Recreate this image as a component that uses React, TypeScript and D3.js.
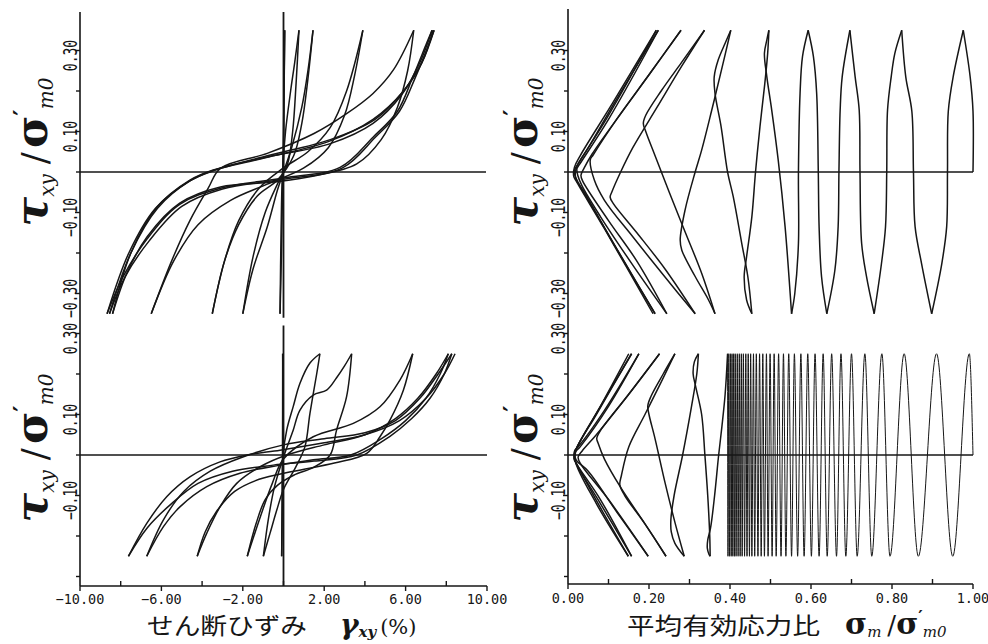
import * as d3 from 'd3'

type Pt = [number, number]

// shear strain (%) vs stress ratio, upper test (ratio 0.35)
const tlLoops: Pt[][] = [
  [[0, 0], [0.03, 0.2], [0.06, 0.35]],
  [[0.06, 0.35], [0.0, 0.1], [-0.05, -0.05], [-0.1, -0.2], [-0.17, -0.35]],
  [[-0.17, -0.35], [-0.12, -0.15], [-0.05, 0], [0.1, 0.1], [0.35, 0.2], [0.55, 0.27], [0.76, 0.35]],
  [[0.76, 0.35], [0.62, 0.22], [0.45, 0.1], [0.2, 0.02], [-0.3, -0.03], [-0.9, -0.1], [-1.5, -0.21], [-2.0, -0.35]],
  [[-2.0, -0.35], [-1.5, -0.24], [-0.8, -0.136], [-0.3, -0.045], [0.0, 0.0], [0.4, 0.06], [0.9, 0.16], [1.2, 0.25], [1.45, 0.35]],
  [[1.45, 0.35], [1.2, 0.23], [0.9, 0.12], [0.5, 0.04], [-0.3, -0.02], [-1.3, -0.06], [-2.2, -0.13], [-2.9, -0.22], [-3.5, -0.35]],
  [[-3.5, -0.35], [-2.9, -0.22], [-2.2, -0.12], [-1.2, -0.04], [0.0, 0.01], [1.2, 0.05], [2.3, 0.11], [3.1, 0.2], [3.9, 0.35]],
  [[3.9, 0.35], [3.5, 0.24], [3.0, 0.14], [2.2, 0.06], [1.0, 0.01], [-0.8, -0.03], [-2.6, -0.07], [-4.2, -0.13], [-5.4, -0.22], [-6.5, -0.35]],
  [[-6.5, -0.35], [-5.5, -0.22], [-4.6, -0.12], [-3.7, -0.04], [-3.1, 0.009], [-0.8, 0.046], [1.5, 0.095], [3.1, 0.144], [4.4, 0.194], [5.4, 0.252], [6.4, 0.35]],
  [[6.4, 0.35], [6.1, 0.25], [5.6, 0.16], [4.8, 0.08], [3.6, 0.02], [1.5, -0.01], [-0.5, -0.025], [-3.1, -0.037], [-5.1, -0.077], [-6.7, -0.16], [-7.7, -0.25], [-8.4, -0.35]],
  [[-8.4, -0.35], [-7.5, -0.2], [-6.2, -0.086], [-4.6, -0.02], [-3.45, 0.005], [-0.8, 0.037], [2.3, 0.07], [4.4, 0.12], [5.8, 0.19], [6.7, 0.27], [7.3, 0.35]],
  [[7.3, 0.35], [7.05, 0.32], [6.36, 0.235], [5.6, 0.15], [4.4, 0.086], [2.8, 0.012], [0.0, -0.015], [-3.1, -0.04], [-5.1, -0.08], [-6.7, -0.165], [-7.9, -0.26], [-8.67, -0.35]],
  [[-8.67, -0.35], [-7.6, -0.2], [-6.3, -0.09], [-4.7, -0.025], [-3.5, 0.003], [-0.9, 0.035], [2.2, 0.075], [4.4, 0.13], [5.9, 0.2], [6.8, 0.27], [7.4, 0.35]],
  [[7.4, 0.35], [7.1, 0.31], [6.45, 0.23], [5.7, 0.15], [4.5, 0.085], [2.9, 0.01], [0.0, -0.018], [-3.0, -0.042], [-5.0, -0.085], [-6.6, -0.17], [-7.8, -0.26], [-8.55, -0.35]],
  [[-8.55, -0.35], [-7.5, -0.2], [-6.2, -0.09], [-4.6, -0.022], [-3.4, 0.004], [-0.8, 0.04], [2.3, 0.08], [4.5, 0.13], [5.9, 0.2], [6.8, 0.27], [7.35, 0.35]],
]

// lower test (ratio 0.25)
const blLoops: Pt[][] = [
  [[0, 0], [-0.02, 0.12], [-0.04, 0.25]],
  [[-0.04, 0.25], [-0.05, 0], [-0.09, -0.25]],
  [[-0.09, -0.25], [-0.06, -0.12], [-0.02, 0], [0.16, 0.062], [0.48, 0.12], [0.81, 0.177], [1.3, 0.227], [1.79, 0.25]],
  [[1.79, 0.25], [1.63, 0.2], [1.3, 0.103], [1.05, 0.02], [0.6, -0.03], [0.0, -0.085], [-0.33, -0.136], [-0.66, -0.193], [-0.99, -0.25]],
  [[-0.99, -0.25], [-0.75, -0.16], [-0.45, -0.08], [-0.1, -0.02], [0.25, 0.03], [0.48, 0.062], [0.81, 0.111], [1.46, 0.148], [2.12, 0.16], [2.6, 0.19], [3.0, 0.22], [3.35, 0.25]],
  [[3.35, 0.25], [3.1, 0.144], [2.61, 0.062], [2.29, 0.0], [1.5, -0.03], [0.5, -0.05], [-0.3, -0.075], [-0.9, -0.11], [-1.35, -0.17], [-1.78, -0.25]],
  [[-1.78, -0.25], [-1.12, -0.15], [-0.55, -0.07], [0.0, -0.01], [1.46, 0.045], [3.43, 0.078], [4.74, 0.119], [5.72, 0.185], [6.35, 0.25]],
  [[6.35, 0.25], [5.89, 0.16], [5.23, 0.086], [4.74, 0.045], [4.09, 0.004], [2.5, -0.02], [0.5, -0.04], [-1.2, -0.06], [-2.4, -0.09], [-3.3, -0.14], [-3.85, -0.19], [-4.24, -0.25]],
  [[-4.24, -0.25], [-3.77, -0.193], [-3.12, -0.128], [-2.3, -0.07], [-1.15, -0.029], [0.16, 0.0], [2.0, 0.025], [4.0, 0.05], [5.5, 0.09], [6.6, 0.14], [7.5, 0.2], [8.1, 0.25]],
  [[8.1, 0.25], [7.7, 0.2], [7.0, 0.14], [6.0, 0.085], [4.8, 0.04], [3.3, 0.0], [1.46, -0.012], [-0.17, -0.025], [-2.14, -0.045], [-3.77, -0.078], [-5.09, -0.128], [-5.9, -0.177], [-6.72, -0.25]],
  [[-6.72, -0.25], [-5.9, -0.16], [-4.9, -0.09], [-3.6, -0.04], [-2.0, -0.005], [0.0, 0.025], [2.0, 0.04], [4.0, 0.055], [5.5, 0.085], [6.7, 0.14], [7.6, 0.2], [8.27, 0.25]],
  [[8.27, 0.25], [7.9, 0.2], [7.2, 0.14], [6.3, 0.09], [5.2, 0.045], [3.6, 0.0], [1.5, -0.015], [-0.5, -0.025], [-2.5, -0.04], [-4.2, -0.07], [-5.5, -0.12], [-6.7, -0.18], [-7.62, -0.25]],
  [[-7.62, -0.25], [-6.72, -0.169], [-5.74, -0.103], [-4.6, -0.054], [-3.12, -0.017], [-1.8, 0.0], [-0.17, 0.012], [2.0, 0.03], [4.0, 0.05], [5.7, 0.085], [7.0, 0.14], [7.9, 0.2], [8.43, 0.25]],
]

// effective stress path, upper test
const trPaths: Pt[][] = [
  [[1.0, 0.0], [1.0, 0.15], [0.993, 0.235], [0.976, 0.35]],
  [[0.976, 0.35], [0.951, 0.235], [0.939, 0.15], [0.937, 0.0], [0.935, -0.135], [0.923, -0.226], [0.898, -0.35]],
  [[0.898, -0.35], [0.873, -0.226], [0.857, -0.135], [0.853, 0.0], [0.849, 0.15], [0.834, 0.235], [0.824, 0.35]],
  [[0.824, 0.35], [0.807, 0.293], [0.798, 0.235], [0.789, 0.153], [0.787, 0.0], [0.784, -0.135], [0.774, -0.226], [0.756, -0.35]],
  [[0.756, -0.35], [0.737, -0.258], [0.725, -0.176], [0.721, 0.0], [0.719, 0.153], [0.709, 0.235], [0.696, 0.35]],
  [[0.696, 0.35], [0.677, 0.235], [0.672, 0.153], [0.669, 0.0], [0.667, -0.135], [0.659, -0.242], [0.639, -0.35]],
  [[0.639, -0.35], [0.626, -0.258], [0.62, -0.135], [0.618, 0.0], [0.614, 0.194], [0.606, 0.285], [0.593, 0.35]],
  [[0.593, 0.35], [0.579, 0.285], [0.573, 0.194], [0.569, 0.0], [0.569, -0.176], [0.56, -0.3], [0.552, -0.35]],
  [[0.552, -0.35], [0.536, -0.135], [0.519, 0.03], [0.503, 0.153], [0.491, 0.235], [0.485, 0.293], [0.491, 0.326], [0.496, 0.35]],
  [[0.496, 0.35], [0.493, 0.293], [0.486, 0.219], [0.474, 0.112], [0.463, 0.0], [0.454, -0.11], [0.441, -0.209], [0.435, -0.258], [0.441, -0.316], [0.454, -0.35]],
  [[0.454, -0.35], [0.444, -0.258], [0.429, -0.176], [0.408, -0.061], [0.394, 0.0], [0.378, 0.112], [0.363, 0.194], [0.361, 0.235], [0.371, 0.277], [0.388, 0.318], [0.402, 0.35]],
  [[0.402, 0.35], [0.379, 0.252], [0.355, 0.153], [0.33, 0.054], [0.314, 0.0], [0.289, -0.094], [0.277, -0.168], [0.281, -0.193], [0.314, -0.258], [0.347, -0.316], [0.363, -0.35]],
  [[0.363, -0.35], [0.33, -0.25], [0.29, -0.15], [0.25, -0.05], [0.215, 0.04], [0.192, 0.1], [0.186, 0.12], [0.192, 0.14], [0.23, 0.2], [0.28, 0.27], [0.337, 0.35]],
  [[0.337, 0.35], [0.28, 0.26], [0.22, 0.16], [0.16, 0.06], [0.13, 0.0], [0.108, -0.05], [0.104, -0.062], [0.112, -0.078], [0.17, -0.15], [0.24, -0.24], [0.314, -0.35]],
  [[0.314, -0.35], [0.24, -0.26], [0.16, -0.16], [0.09, -0.07], [0.065, -0.02], [0.055, 0.03], [0.062, 0.042], [0.12, 0.13], [0.2, 0.24], [0.279, 0.35]],
  [[0.279, 0.35], [0.2, 0.24], [0.12, 0.13], [0.06, 0.045], [0.04, 0.01], [0.032, -0.008], [0.036, -0.022], [0.1, -0.12], [0.17, -0.22], [0.244, -0.35]],
  [[0.244, -0.35], [0.16, -0.23], [0.08, -0.11], [0.035, -0.035], [0.024, -0.008], [0.022, 0.008], [0.028, 0.018], [0.1, 0.13], [0.223, 0.35]],
  [[0.223, 0.35], [0.12, 0.18], [0.05, 0.06], [0.022, 0.014], [0.018, -0.008], [0.022, -0.02], [0.08, -0.12], [0.15, -0.24], [0.215, -0.35]],
  [[0.215, -0.35], [0.12, -0.19], [0.04, -0.05], [0.02, -0.018], [0.016, 0.004], [0.025, 0.02], [0.1, 0.14], [0.218, 0.35]],
  [[0.218, 0.35], [0.11, 0.17], [0.03, 0.04], [0.016, 0.012], [0.014, -0.01], [0.02, -0.022], [0.09, -0.14], [0.21, -0.35]],
]

// effective stress path, lower test: peaks of the many small cycles
const brAmp = 0.25
const brTops = [0.991, 0.910, 0.830, 0.775, 0.733, 0.700, 0.674, 0.651, 0.630, 0.610, 0.592, 0.575, 0.559, 0.545, 0.532, 0.520, 0.509, 0.499, 0.490, 0.481, 0.473, 0.465, 0.458, 0.451, 0.445, 0.439, 0.433, 0.428, 0.423, 0.418, 0.413, 0.409, 0.405, 0.401, 0.397, 0.394]
const brBottoms = [0.950, 0.865, 0.795, 0.750, 0.714, 0.686, 0.663, 0.640, 0.620, 0.601, 0.583, 0.567, 0.552, 0.538, 0.526, 0.514, 0.504, 0.494, 0.485, 0.477, 0.469, 0.461, 0.454, 0.448, 0.442, 0.436, 0.430, 0.425, 0.420, 0.415, 0.411, 0.407, 0.403, 0.399, 0.395]

const brPaths: Pt[][] = [
  [[0.394, 0.25], [0.388, 0.15], [0.38, 0.07], [0.372, 0.0], [0.362, -0.1], [0.352, -0.18], [0.345, -0.21], [0.344, -0.23], [0.348, -0.245], [0.351, -0.25]],
  [[0.351, -0.25], [0.35, -0.2], [0.345, -0.1], [0.338, 0.0], [0.33, 0.1], [0.315, 0.17], [0.309, 0.2], [0.312, 0.23], [0.322, 0.25]],
  [[0.322, 0.25], [0.318, 0.2], [0.305, 0.12], [0.283, 0.0], [0.262, -0.1], [0.254, -0.16], [0.255, -0.19], [0.264, -0.218], [0.287, -0.25]],
  [[0.287, -0.25], [0.265, -0.17], [0.24, -0.07], [0.215, 0.04], [0.2, 0.1], [0.197, 0.121], [0.205, 0.145], [0.235, 0.2], [0.264, 0.25]],
  [[0.264, 0.25], [0.23, 0.18], [0.19, 0.1], [0.15, 0.02], [0.132, -0.05], [0.128, -0.074], [0.14, -0.1], [0.19, -0.17], [0.242, -0.25]],
  [[0.242, -0.25], [0.19, -0.17], [0.13, -0.08], [0.09, -0.01], [0.074, 0.03], [0.071, 0.041], [0.08, 0.06], [0.15, 0.15], [0.226, 0.25]],
  [[0.226, 0.25], [0.15, 0.15], [0.07, 0.05], [0.035, 0.01], [0.025, -0.005], [0.03, -0.02], [0.1, -0.11], [0.198, -0.25]],
  [[0.198, -0.25], [0.12, -0.14], [0.05, -0.04], [0.02, -0.012], [0.017, 0.005], [0.03, 0.02], [0.1, 0.12], [0.175, 0.25]],
  [[0.175, 0.25], [0.09, 0.11], [0.025, 0.02], [0.017, 0.012], [0.015, -0.005], [0.018, -0.016], [0.08, -0.11], [0.157, -0.25]],
  [[0.157, -0.25], [0.08, -0.12], [0.02, -0.02], [0.015, 0.0], [0.02, 0.015], [0.08, 0.12], [0.157, 0.25]],
  [[0.157, 0.25], [0.07, 0.1], [0.02, 0.014], [0.015, -0.01], [0.02, -0.02], [0.08, -0.13], [0.149, -0.25]],
  [[0.149, -0.25], [0.07, -0.12], [0.018, -0.015], [0.02, 0.012], [0.08, 0.12], [0.15, 0.25]],
]

const stressTicks = [0.3, 0.2, 0.1, 0, -0.1, -0.2, -0.3]
const upperStressLabels = [0.3, 0.1, -0.1, -0.3]
const lowerStressLabels = [0.3, 0.1, -0.1]
const strainTicks = [-10, -8, -6, -4, -2, 0, 2, 4, 6, 8, 10]
const strainLabels = [-10, -6, -2, 2, 6, 10]
const ratioTicks = [0, 0.1, 0.2, 0.3, 0.4, 0.5, 0.6, 0.7, 0.8, 0.9, 1.0]
const ratioLabels = [0, 0.2, 0.4, 0.6, 0.8, 1.0]

const INK = '#161616'
const MONO = "'DejaVu Sans Mono', monospace"
const fmt = d3.format('.2f')

const xStrain = d3.scaleLinear().domain([-10, 10]).range([80, 487])
const xRatio = d3.scaleLinear().domain([0, 1]).range([568, 973])
const yUpper = d3.scaleLinear().domain([-0.4, 0.4]).range([334, 10])
const yLower = d3.scaleLinear().domain([-0.4, 0.4]).range([617, 293])

type Scale = d3.ScaleLinear<number, number>

function toPath(x: Scale, y: Scale, pts: Pt[], curve: d3.CurveFactory = d3.curveCatmullRom.alpha(0.5)) {
  return d3.line<Pt>().x((d) => x(d[0])).y((d) => y(d[1])).curve(curve)(pts) ?? ''
}

function StressTitle({ x, y }: { x: number; y: number }) {
  return (
    <text transform={`translate(${x},${y}) rotate(-90)`} textAnchor="middle" fontFamily="'DejaVu Serif', serif" fill={INK}>
      <tspan fontSize={44} fontStyle="italic" fontWeight="bold">τ</tspan>
      <tspan fontSize={20} fontStyle="italic" dy={7}>xy</tspan>
      <tspan fontSize={36} dx={10} dy={-7}>/</tspan>
      <tspan fontSize={44} fontWeight="bold" dx={4}>σ</tspan>
      <tspan fontSize={24} fontWeight="bold" dy={-16}>′</tspan>
      <tspan fontSize={20} fontStyle="italic" dy={22}>m0</tspan>
    </text>
  )
}

function StressAxis({ x, y, labels, top, bottom }: { x: number; y: Scale; labels: number[]; top: number; bottom: number }) {
  return (
    <g stroke={INK}>
      <line x1={x} x2={x} y1={top} y2={bottom} strokeWidth={1.6} />
      {stressTicks.map((t) => (
        <line key={t} x1={x - (labels.includes(t) ? 5 : 4)} x2={x} y1={y(t)} y2={y(t)} strokeWidth={1.4} />
      ))}
      {labels.map((t) => (
        <text
          key={`l${t}`}
          transform={`translate(${x - 3},${y(t) + 5}) rotate(-90) scale(1,1.45)`}
          textAnchor="middle"
          fontFamily={MONO}
          fontSize={13}
          fill={INK}
          stroke="none"
        >
          {fmt(t)}
        </text>
      ))}
    </g>
  )
}

export default function App() {
  const brWave: Pt[] = [[1, 0]]
  brTops.forEach((t, i) => {
    brWave.push([t, brAmp])
    if (i < brBottoms.length) brWave.push([brBottoms[i], -brAmp])
  })
  const brWaveAsc = brWave.slice().reverse()

  const lineProps = { fill: 'none', stroke: INK, strokeWidth: 1.5, strokeLinejoin: 'round' as const }

  return (
    <svg width={988} height={644} viewBox="0 0 988 644" style={{ position: 'absolute', left: 0, top: 0, background: '#fff' }}>
      <rect width={988} height={644} fill="#fff" />

      {/* left panels: stress-strain loops */}
      <StressAxis x={80} y={yUpper} labels={upperStressLabels} top={12} bottom={334} />
      <StressAxis x={80} y={yLower} labels={lowerStressLabels} top={334} bottom={586} />
      <line x1={80} x2={486} y1={yUpper(0)} y2={yUpper(0)} stroke={INK} strokeWidth={1.6} />
      <line x1={80} x2={487} y1={yLower(0)} y2={yLower(0)} stroke={INK} strokeWidth={1.6} />
      <line x1={xStrain(0)} x2={xStrain(0)} y1={yUpper(0.395)} y2={yUpper(-0.36)} stroke={INK} strokeWidth={1.8} />
      <line x1={xStrain(0)} x2={xStrain(0)} y1={yLower(0.32)} y2={586} stroke={INK} strokeWidth={1.8} />
      {tlLoops.map((pts, i) => (
        <path key={`tl${i}`} d={toPath(xStrain, yUpper, pts)} {...lineProps} />
      ))}
      {blLoops.map((pts, i) => (
        <path key={`bl${i}`} d={toPath(xStrain, yLower, pts)} {...lineProps} />
      ))}
      <line x1={80} x2={487} y1={586} y2={586} stroke={INK} strokeWidth={1.6} />
      {strainTicks.map((t) => {
        const lab = strainLabels.includes(t)
        return <line key={`st${t}`} x1={xStrain(t)} x2={xStrain(t)} y1={586} y2={lab ? 591 : 581} stroke={INK} strokeWidth={1.4} />
      })}
      {strainLabels.map((t) => (
        <text key={`sl${t}`} x={xStrain(t)} y={604} textAnchor="middle" fontFamily={MONO} fontSize={13.5} fill={INK}>
          {fmt(t)}
        </text>
      ))}
      <StressTitle x={47} y={152} />
      <StressTitle x={47} y={448} />
      <text x={147} y={634} fontFamily="'Noto Sans CJK JP', sans-serif" fontSize={23} textLength={160} lengthAdjust="spacingAndGlyphs" fill={INK}>せん断ひずみ</text>
      <text x={340} y={634} fontFamily="'DejaVu Serif', serif" fill={INK}>
        <tspan fontSize={28} fontStyle="italic" fontWeight="bold">γ</tspan>
        <tspan fontSize={15} fontStyle="italic" fontWeight="bold" dy={3}>xy</tspan>
        <tspan fontSize={21} dx={4} dy={-3}>(%)</tspan>
      </text>

      {/* right panels: effective stress paths */}
      <StressAxis x={568} y={yUpper} labels={upperStressLabels} top={9} bottom={334} />
      <StressAxis x={568} y={yLower} labels={lowerStressLabels} top={334} bottom={584} />
      <line x1={568} x2={973} y1={yUpper(0)} y2={yUpper(0)} stroke={INK} strokeWidth={1.6} />
      <line x1={568} x2={973} y1={yLower(0)} y2={yLower(0)} stroke={INK} strokeWidth={1.6} />
      {trPaths.map((pts, i) => (
        <path key={`tr${i}`} d={toPath(xRatio, yUpper, pts)} {...lineProps} />
      ))}
      <path d={toPath(xRatio, yLower, brWaveAsc, d3.curveMonotoneX)} {...lineProps} strokeWidth={1.0} />
      {brPaths.map((pts, i) => (
        <path key={`br${i}`} d={toPath(xRatio, yLower, pts)} {...lineProps} />
      ))}
      <line x1={568} x2={973} y1={584} y2={584} stroke={INK} strokeWidth={1.6} />
      {ratioTicks.map((t) => {
        const lab = ratioLabels.includes(t)
        return <line key={`rt${t}`} x1={xRatio(t)} x2={xRatio(t)} y1={584} y2={lab ? 589 : 579} stroke={INK} strokeWidth={1.4} />
      })}
      {ratioLabels.map((t) => (
        <text key={`rl${t}`} x={xRatio(t)} y={603} textAnchor="middle" fontFamily={MONO} fontSize={13.5} fill={INK}>
          {fmt(t)}
        </text>
      ))}
      <StressTitle x={537} y={152} />
      <StressTitle x={537} y={448} />
      <text x={627} y={634} fontFamily="'Noto Sans CJK JP', sans-serif" fontSize={23} textLength={193} lengthAdjust="spacingAndGlyphs" fill={INK}>平均有効応力比</text>
      <text x={845} y={634} fontFamily="'DejaVu Serif', serif" fill={INK}>
        <tspan fontSize={30} fontWeight="bold">σ</tspan>
        <tspan fontSize={15} fontStyle="italic" dy={3}>m</tspan>
        <tspan fontSize={26} dx={6} dy={-3}>/</tspan>
        <tspan fontSize={30} fontWeight="bold">σ</tspan>
        <tspan fontSize={17} fontWeight="bold" dy={-12}>′</tspan>
        <tspan fontSize={15} fontStyle="italic" dy={15}>m0</tspan>
      </text>
    </svg>
  )
}
